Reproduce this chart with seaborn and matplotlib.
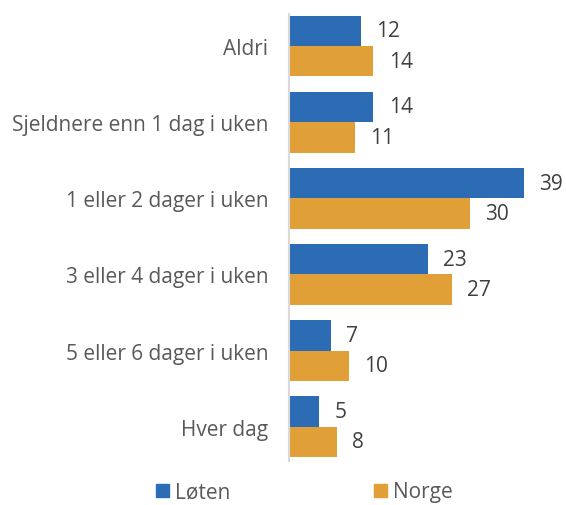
import matplotlib
matplotlib.use("Agg")
import matplotlib.pyplot as plt
import seaborn as sns
import pandas as pd

categories = ["Aldri", "Sjeldnere enn 1 dag i uken", "1 eller 2 dager i uken",
              "3 eller 4 dager i uken", "5 eller 6 dager i uken", "Hver dag"]
loten = [12, 14, 39, 23, 7, 5]
norge = [14, 11, 30, 27, 10, 8]
series_names = ["Løten", "Norge"]
colors = ["#2B6CB5", "#E1A037"]

df = pd.DataFrame({
    "kategori": categories * 2,
    "verdi": loten + norge,
    "serie": [series_names[0]] * len(categories) + [series_names[1]] * len(categories),
})

sns.set_style("white")
plt.rcParams["font.family"] = ["Open Sans", "DejaVu Sans"]

fig = plt.figure(figsize=(5.66, 5.06), dpi=100)
ax = fig.add_axes([289 / 566, 1 - 462 / 506, (560 - 289) / 566, (462 - 15) / 506])

sns.barplot(data=df, y="kategori", x="verdi", hue="serie", order=categories,
            hue_order=series_names, palette=colors, orient="h", width=0.8,
            saturation=1, linewidth=0, ax=ax, legend=False)

ax.set_xlim(0, 45)
ax.set_ylim(5.45, -0.42)
ax.set_xlabel("")
ax.set_ylabel("")
ax.set_xticks([])
for s in ["top", "right", "bottom"]:
    ax.spines[s].set_visible(False)
ax.spines["left"].set_color("#D9D9D9")
ax.spines["left"].set_linewidth(1.5)
ax.tick_params(axis="y", length=0, pad=15, labelsize=15, labelcolor="#595959")

for cont in ax.containers:
    ax.bar_label(cont, padding=11, fontsize=15, color="#404040")

handles = [plt.Rectangle((0, 0), 1, 1, color=c) for c in colors]
fig.legend(handles, series_names, loc="center", bbox_to_anchor=(0.538, 1 - 493 / 506),
           ncol=2, frameon=False, fontsize=15, labelcolor="#595959",
           handlelength=0.6, handleheight=0.6, handletextpad=0.3, columnspacing=6.9,
           borderpad=0.1)

fig.savefig("out.png", dpi=100)
